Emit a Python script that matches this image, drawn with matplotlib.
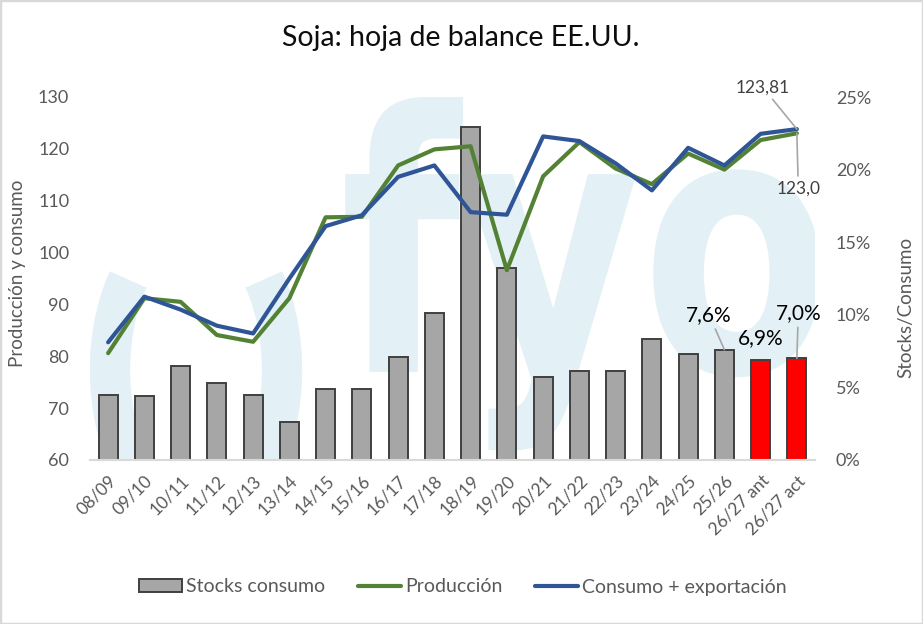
import numpy as np
import matplotlib
matplotlib.use('Agg')
import matplotlib.pyplot as plt
from matplotlib.textpath import TextPath
from matplotlib.font_manager import FontProperties
from matplotlib.patches import PathPatch, Rectangle
from matplotlib.path import Path
from matplotlib.ticker import FuncFormatter


# %% data

campanas = ['08/09', '09/10', '10/11', '11/12', '12/13', '13/14', '14/15', '15/16',
            '16/17', '17/18', '18/19', '19/20', '20/21', '21/22', '22/23', '23/24',
            '24/25', '25/26', '26/27 ant', '26/27 act']

# stocks / consumo (%)
stocks_consumo = [4.5, 4.4, 6.5, 5.3, 4.5, 2.6, 4.9, 4.9, 7.1, 10.1,
                  22.9, 13.2, 5.7, 6.1, 6.1, 8.3, 7.3, 7.6, 6.9, 7.0]

# millones de toneladas
produccion = [80.6, 91.2, 90.5, 84.1, 82.8, 91.2, 106.8, 106.9, 116.8, 119.9,
              120.5, 96.6, 114.7, 121.3, 116.2, 113.2, 119.1, 116.0, 121.7, 123.0]
consumo_export = [82.7, 91.5, 89.0, 85.9, 84.4, 95.0, 105.1, 107.2, 114.6, 116.8,
                  107.8, 107.3, 122.4, 121.5, 117.2, 112.0, 120.2, 116.8, 122.9, 123.81]

bar_colors = ['#a6a6a6'] * 18 + ['#ff0000'] * 2

# %% style

W, H = 923, 624
gray_txt = '#595959'
wm_color = '#e3f1f6'
plt.rcParams['font.family'] = ['Lato', 'DejaVu Sans']


def fx(px):
    return px / W


def fy(py):
    return 1 - py / H


def coma(v, nd):
    return f'{v:.{nd}f}'.replace('.', ',')


# %% figure

fig = plt.figure(figsize=(W / 100, H / 100), dpi=100)
ax = fig.add_axes([fx(90), fy(460), fx(815) - fx(90), fy(97) - fy(460)])
ax2 = ax.twinx()
ax.set_zorder(ax2.get_zorder() + 1)
ax.patch.set_visible(False)

x = np.arange(len(campanas))

# watermark (logo fyo)
tp = TextPath((0, 0), 'fyo', size=1, prop=FontProperties(family='DejaVu Sans', weight='bold'))
v = tp.vertices.copy()
xmin, xmax, ymax = v[:, 0].min(), v[:, 0].max(), v[:, 1].max()
px = 340 + (v[:, 0] - xmin) / (xmax - xmin) * (820 - 340)
py = 372 - v[:, 1] * (275 / ymax)
wm_path = Path(np.column_stack([fx(px), fy(py)]), tp.codes)
wm = PathPatch(wm_path, facecolor=wm_color, edgecolor='none', transform=fig.transFigure, zorder=0)
ax2.add_patch(wm)
for t0, t1 in [(142, 218), (-38, 38)]:
    th = np.radians(np.linspace(t0, t1, 60))
    ax2.plot(fx(196 + 86 * np.cos(th)), fy(370 - 147 * np.sin(th)), color=wm_color, lw=29,
             solid_capstyle='butt', transform=fig.transFigure, zorder=0)

# bars (right axis)
bars = ax2.bar(x, stocks_consumo, width=0.52, color=bar_colors, edgecolor='#404040',
               linewidth=1.4, zorder=2, label='Stocks consumo')

# lines (left axis)
ax.plot(x, produccion, color='#548235', lw=3, label='Producción', solid_capstyle='round')
ax.plot(x, consumo_export, color='#2f5597', lw=3, label='Consumo + exportación',
        solid_capstyle='round')

ax.set_xlim(-0.5, len(campanas) - 0.5)
ax.set_ylim(60, 130)
ax.set_yticks(np.arange(60, 131, 10))
ax2.set_ylim(0, 25)
ax2.set_yticks(np.arange(0, 26, 5))
ax2.yaxis.set_major_formatter(FuncFormatter(lambda v, p: f'{v:.0f}%'))

ax.set_xticks(x)
ax.set_xticklabels(campanas, rotation=45, ha='right', rotation_mode='anchor', fontsize=12.5,
                   color=gray_txt)
ax.tick_params(axis='x', length=0, pad=9)
ax.tick_params(axis='y', length=0, pad=15, labelsize=13, labelcolor=gray_txt)
ax2.tick_params(axis='y', length=0, pad=15, labelsize=13, labelcolor=gray_txt)

for a in (ax, ax2):
    for s in a.spines.values():
        s.set_visible(False)
ax.spines['bottom'].set_visible(True)
ax.spines['bottom'].set_color('#d9d9d9')
ax.spines['bottom'].set_linewidth(1.5)

# labels on last bars
lead = dict(arrowstyle='-', color='#a6a6a6', lw=1.2, shrinkA=1, shrinkB=0)
ax2.annotate(coma(stocks_consumo[17], 1) + '%', xy=(17, stocks_consumo[17]),
             xytext=(-11, 25), textcoords='offset points', ha='center', va='center',
             fontsize=15, color='#000000', arrowprops=lead)
ax2.annotate(coma(stocks_consumo[18], 1) + '%', xy=(18, stocks_consumo[18]),
             xytext=(0, 15.5), textcoords='offset points', ha='center', va='center',
             fontsize=15, color='#000000')
ax2.annotate(coma(stocks_consumo[19], 1) + '%', xy=(19, stocks_consumo[19]),
             xytext=(1, 32.5), textcoords='offset points', ha='center', va='center',
             fontsize=15, color='#000000', arrowprops=lead)

# labels on last line points
ax.annotate(coma(consumo_export[19], 2), xy=(19, consumo_export[19]),
            xytext=(-24.5, 30), textcoords='offset points', ha='center', va='center',
            fontsize=12.5, color='#404040', arrowprops=lead)
ax.annotate(coma(produccion[19], 1), xy=(19, produccion[19]),
            xytext=(1, -39.5), textcoords='offset points', ha='center', va='center',
            fontsize=12.5, color='#404040', arrowprops=lead)

# titles
fig.text(fx(461), fy(38), 'Soja: hoja de balance EE.UU.', ha='center', va='center',
         fontsize=20.5, color='#0d0d0d')
fig.text(fx(18), fy(273), 'Producción y consumo', rotation=90, ha='center', va='center',
         fontsize=13.5, color=gray_txt)
fig.text(fx(906), fy(307), 'Stocks/Consumo', rotation=90, ha='center', va='center',
         fontsize=13.5, color=gray_txt)

# legend
h1, l1 = ax2.get_legend_handles_labels()
h2, l2 = ax.get_legend_handles_labels()
leg = fig.legend(h1[:1] + h2, l1[:1] + l2, loc='center', ncol=3,
                 bbox_to_anchor=(fx(463), fy(587)), frameon=False, fontsize=14,
                 handlelength=2.2, handletextpad=0.2, columnspacing=1.7, handleheight=0.65)
for t in leg.get_texts():
    t.set_color(gray_txt)
leg.legend_handles[0].set_facecolor('#a6a6a6')

# border
fig.patches.append(Rectangle((0, 0), 1, 1, transform=fig.transFigure, fill=False,
                             edgecolor='#d9d9d9', lw=2.5))

plt.savefig('out.png', dpi=100)
